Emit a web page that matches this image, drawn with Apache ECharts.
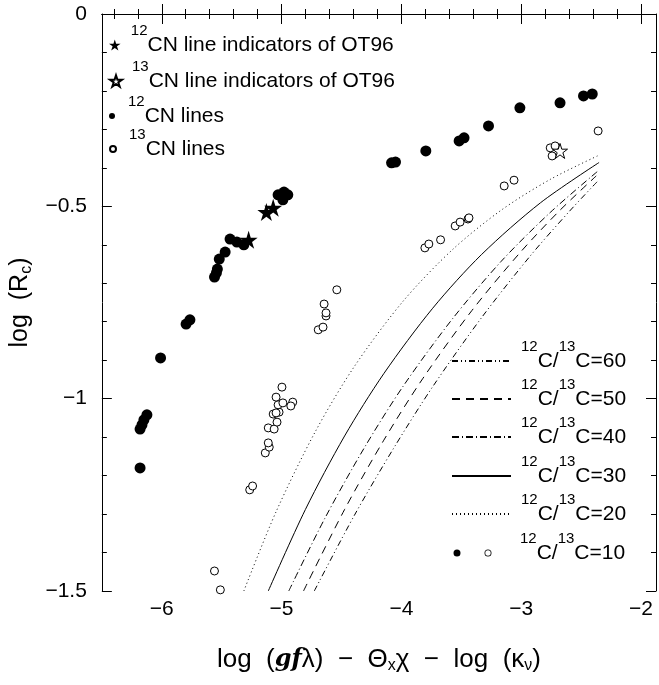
<!DOCTYPE html>
<html>
<head>
<meta charset="utf-8">
<script src="https://cdn.jsdelivr.net/npm/echarts@6/dist/echarts.min.js"></script>
<style>
  html, body { margin: 0; padding: 0; background: #fff; }
  #chart { width: 659px; height: 685px; }
</style>
</head>
<body>
<div id="chart"></div>
<script>
  // 12CN lines (filled dots)
  const cn12X = [-6.181, -6.181, -6.165, -6.149, -6.124, -6.010, -5.797, -5.765, -5.560, -5.544, -5.536,
    -5.520, -5.471, -5.430, -5.373, -5.315, -5.029, -4.989, -4.980, -4.964, -4.948, -4.082, -4.049,
    -3.796, -3.518, -3.477, -3.273, -3.011, -2.676, -2.480, -2.407];
  const cn12Y = [-1.180, -1.079, -1.068, -1.055, -1.042, -0.894, -0.806, -0.795, -0.684, -0.673, -0.663,
    -0.637, -0.619, -0.585, -0.593, -0.600, -0.470, -0.483, -0.463, -0.470, -0.470, -0.387, -0.385,
    -0.356, -0.330, -0.322, -0.291, -0.244, -0.231, -0.213, -0.208];

  // 13CN lines (open dots)
  const cn13X = [-5.511, -5.560, -5.266, -5.242, -5.136, -5.103, -5.111, -5.111, -5.062, -5.038, -5.070,
    -5.021, -5.046, -5.029, -5.046, -4.989, -4.907, -4.923, -4.997, -4.694, -4.654, -4.629, -4.629,
    -4.645, -4.539, -3.804, -3.771, -3.673, -3.551, -3.510, -3.444, -3.436, -3.142, -3.060, -2.758,
    -2.742, -2.717, -2.358];
  const cn13Y = [-1.497, -1.448, -1.237, -1.227, -1.141, -1.126, -1.115, -1.076, -1.079, -1.061, -1.040,
    -1.035, -1.037, -1.016, -0.996, -1.011, -1.009, -1.019, -0.970, -0.821, -0.814, -0.785, -0.777,
    -0.754, -0.717, -0.608, -0.598, -0.587, -0.551, -0.541, -0.533, -0.530, -0.447, -0.432, -0.348,
    -0.369, -0.343, -0.304];

  // line indicators of OT96
  const star12X = [-5.275, -5.127, -5.070];
  const star12Y = [-0.587, -0.515, -0.504];
  const star13X = [-2.676];
  const star13Y = [-0.356];

  // model curves for 12C/13C ratios
  const ratio20X = [-5.315, -5.046, -4.719, -4.392, -3.984, -3.575, -3.167, -2.758, -2.350];
  const ratio20Y = [-1.500, -1.294, -1.086, -0.916, -0.746, -0.613, -0.510, -0.430, -0.367];
  const ratio30X = [-5.111, -4.801, -4.474, -4.147, -3.739, -3.330, -2.840, -2.350];
  const ratio30Y = [-1.500, -1.288, -1.097, -0.935, -0.765, -0.625, -0.491, -0.386];
  const ratio40X = [-4.940, -4.637, -4.310, -3.984, -3.575, -3.167, -2.758, -2.366];
  const ratio40Y = [-1.500, -1.310, -1.128, -0.967, -0.793, -0.643, -0.516, -0.410];
  const ratio50X = [-4.817, -4.474, -4.147, -3.820, -3.412, -3.003, -2.676, -2.374];
  const ratio50Y = [-1.500, -1.288, -1.108, -0.947, -0.771, -0.618, -0.510, -0.421];
  const ratio60X = [-4.727, -4.392, -4.065, -3.739, -3.330, -2.922, -2.595, -2.366];
  const ratio60Y = [-1.500, -1.303, -1.129, -0.969, -0.789, -0.628, -0.512, -0.436];

  // axis ticks
  const xMajorTicks = [-6, -5, -4, -3, -2];
  const xMinorTicks = [-6.4, -6.2, -5.8, -5.6, -5.4, -5.2, -4.8, -4.6, -4.4, -4.2,
    -3.8, -3.6, -3.4, -3.2, -2.8, -2.6, -2.4, -2.2];
  const yMajorTicks = [0, -0.5, -1, -1.5];
  const yMinorTicks = [-0.1, -0.2, -0.3, -0.4, -0.6, -0.7, -0.8, -0.9, -1.1, -1.2, -1.3, -1.4];

  const FONT = 'Liberation Sans';
  const zip = (xs, ys) => xs.map((x, i) => [x, ys[i]]);
  const fmt = v => (v < 0 ? '\u2212' : '') + Math.abs(v);
  const starPath = 'path://M0,-10 L2.23,-3.07 L9.51,-3.09 L3.61,1.17 L5.88,8.09 L0,3.8 L-5.88,8.09 L-3.61,1.17 L-9.51,-3.09 L-2.23,-3.07 Z';
  // filled dot + open ring, for the ratio=10 legend entry
  const dotsIcon = 'path://M0,0 L0,0 M59,8 L59,8 ' +
    'M2.5,4 A3.5,3.5 0 1,1 9.5,4 A3.5,3.5 0 1,1 2.5,4 Z ' +
    'M33.5,4 A3.5,3.5 0 1,1 40.5,4 A3.5,3.5 0 1,1 33.5,4 Z ' +
    'M34.3,4 A2.7,2.7 0 1,0 39.7,4 A2.7,2.7 0 1,0 34.3,4 Z';

  const rich = {
    sup: { fontFamily: FONT, fontSize: 15, color: '#000', padding: [0, 0, 29, 0] },
    sub: { fontFamily: FONT, fontSize: 16, color: '#000', padding: [12, 0, 0, 0] },
    it: { fontFamily: 'DejaVu Serif', fontSize: 24, fontStyle: 'italic', fontWeight: 'bold', color: '#000' }
  };

  const labels = {
    'star12': '{sup|12}CN line indicators of OT96',
    'star13': '{sup|13}CN line indicators of OT96',
    'cn12': '{sup|12}CN lines',
    'cn13': '{sup|13}CN lines',
    'r60': '{sup|12}C/{sup|13}C=60',
    'r50': '{sup|12}C/{sup|13}C=50',
    'r40': '{sup|12}C/{sup|13}C=40',
    'r30': '{sup|12}C/{sup|13}C=30',
    'r20': '{sup|12}C/{sup|13}C=20',
    'r10': '{sup|12}C/{sup|13}C=10'
  };

  function legendAt(name, left, top, w, h, icon, lineOnly) {
    const item = { name: name };
    if (icon) item.icon = icon;
    if (lineOnly) item.itemStyle = { opacity: 0 };
    return {
      data: [item],
      left: left,
      top: top,
      padding: 0,
      itemWidth: w,
      itemHeight: h,
      selectedMode: false,
      formatter: n => labels[n],
      textStyle: { fontFamily: FONT, fontSize: 21, color: '#000', padding: [0, 0, 0, 5], rich: rich }
    };
  }

  function curve(name, xs, ys, dash) {
    return {
      name: name,
      type: 'line',
      data: zip(xs, ys),
      smooth: 0.3,
      symbol: 'none',
      itemStyle: { color: '#000' },
      lineStyle: { color: '#000', width: 1, type: dash },
      z: 2
    };
  }

  function xAxisOf(pos, ticks, len, main) {
    return {
      type: 'value', position: pos, min: -6.5, max: -1.875,
      splitLine: { show: false },
      axisLine: { show: main, lineStyle: { color: '#000', width: 1 } },
      axisTick: { inside: true, length: len, customValues: ticks, lineStyle: { color: '#000' } },
      axisLabel: (main && pos === 'bottom') ?
        { customValues: ticks, formatter: fmt, margin: 8, fontFamily: FONT, fontSize: 21, color: '#000' } :
        { show: false }
    };
  }

  function yAxisOf(pos, ticks, len, main) {
    return {
      type: 'value', position: pos, min: -1.5, max: 0,
      splitLine: { show: false },
      axisLine: { show: main, lineStyle: { color: '#000', width: 1 } },
      axisTick: { inside: true, length: len, customValues: ticks, lineStyle: { color: '#000' } },
      axisLabel: (main && pos === 'left') ?
        { customValues: ticks, formatter: fmt, margin: 15, fontFamily: FONT, fontSize: 21, color: '#000' } :
        { show: false }
    };
  }

  const xAxes = [
    xAxisOf('bottom', xMajorTicks, 10, true),
    xAxisOf('top', xMajorTicks, 10, true),
    xAxisOf('bottom', xMinorTicks, 5, false),
    xAxisOf('top', xMinorTicks, 5, false)
  ];
  xAxes[0].name = 'log  ({it|gf}λ)  −  Θ{sub|x}χ  −  log  (κ{sub|ν})';
  xAxes[0].nameLocation = 'middle';
  xAxes[0].nameGap = 55;
  xAxes[0].nameTextStyle = { fontFamily: FONT, fontSize: 26, color: '#000', rich: rich };

  const yAxes = [
    yAxisOf('left', yMajorTicks, 10, true),
    yAxisOf('right', yMajorTicks, 10, true),
    yAxisOf('left', yMinorTicks, 5, false),
    yAxisOf('right', yMinorTicks, 5, false)
  ];
  yAxes[0].name = 'log  (R{sub|c})';
  yAxes[0].nameLocation = 'middle';
  yAxes[0].nameGap = 30;
  yAxes[0].nameTextStyle = { fontFamily: FONT, fontSize: 25, color: '#000', rich: rich };

  const chart = echarts.init(document.getElementById('chart'));
  chart.setOption({
    animation: false,
    backgroundColor: '#fff',
    grid: { left: 92, top: 14, right: 3, bottom: 94 },
    xAxis: xAxes,
    yAxis: yAxes,
    legend: [
      legendAt('star12', 109, 23, 12, 11),
      legendAt('star13', 109, 59, 12, 12),
      legendAt('cn12', 109, 94, 12, 6),
      legendAt('cn13', 109, 127, 12, 6),
      legendAt('r60', 451, 339, 59, 8, null, true),
      legendAt('r50', 451, 377, 59, 8, null, true),
      legendAt('r40', 451, 415, 59, 8, null, true),
      legendAt('r30', 451, 454, 59, 8, null, true),
      legendAt('r20', 451, 492, 59, 8, null, true),
      legendAt('r10', 451, 531, 59, 8, dotsIcon)
    ],
    series: [
      curve('r20', ratio20X, ratio20Y, [1, 3]),
      curve('r30', ratio30X, ratio30Y, 'solid'),
      curve('r40', ratio40X, ratio40Y, [7, 3, 1, 3]),
      curve('r50', ratio50X, ratio50Y, [8, 6]),
      curve('r60', ratio60X, ratio60Y, [6, 3, 1, 3, 1, 3]),
      {
        name: 'cn12', type: 'scatter', data: zip(cn12X, cn12Y),
        symbol: 'circle', symbolSize: 11, itemStyle: { color: '#000', opacity: 1 }, z: 3
      },
      {
        name: 'cn13', type: 'scatter', data: zip(cn13X, cn13Y),
        symbol: 'circle', symbolSize: 8,
        itemStyle: { color: '#fff', borderColor: '#000', borderWidth: 1, opacity: 1 }, z: 3
      },
      {
        name: 'star12', type: 'scatter', data: zip(star12X, star12Y),
        symbol: starPath, symbolSize: 18, itemStyle: { color: '#000', opacity: 1 }, z: 4
      },
      {
        name: 'star13', type: 'scatter', data: zip(star13X, star13Y),
        symbol: starPath, symbolSize: 15,
        itemStyle: { color: '#fff', borderColor: '#000', borderWidth: 1, opacity: 1 }, z: 4
      },
      {
        name: 'r10', type: 'scatter', data: [], itemStyle: { color: '#000', opacity: 1 }
      }
    ]
  });
</script>
</body>
</html>
